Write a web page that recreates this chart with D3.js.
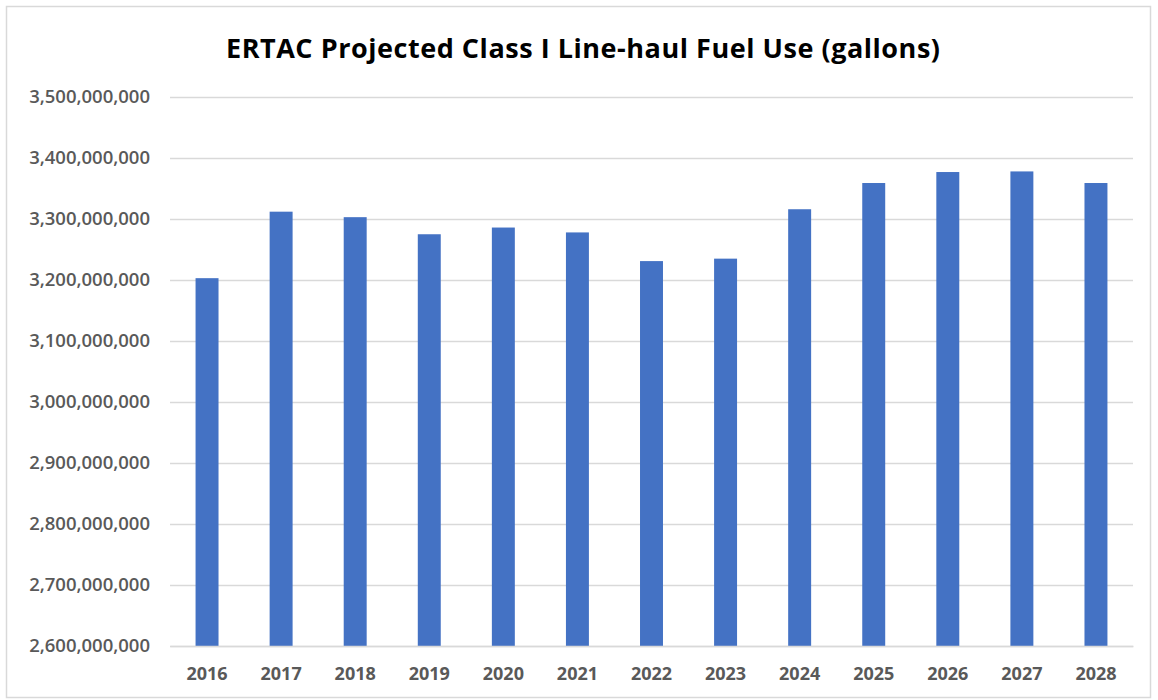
<!DOCTYPE html>
<html>
<head>
<meta charset="utf-8">
<script src="https://cdn.jsdelivr.net/npm/d3@7"></script>
<style>
  body { margin: 0; background: #fff; }
  text { font-family: "Open Sans", "Liberation Sans", sans-serif; }
</style>
</head>
<body>
<div id="chart"></div>
<script>
//data
const years = ["2016", "2017", "2018", "2019", "2020", "2021", "2022", "2023", "2024", "2025", "2026", "2027", "2028"];
const fuelUse = [3203000000, 3312000000, 3303000000, 3275000000, 3286000000, 3278000000, 3231000000, 3235000000, 3316000000, 3359000000, 3377000000, 3378000000, 3359000000];
const yTicks = [2600000000, 2700000000, 2800000000, 2900000000, 3000000000, 3100000000, 3200000000, 3300000000, 3400000000, 3500000000];

const svgWidth = 1158;
const svgHeight = 700;

//plot area
const margin = { top: 97, right: 25, bottom: 54, left: 170 };
const width = svgWidth - margin.left - margin.right;
const height = svgHeight - margin.top - margin.bottom;

const svg = d3.select("#chart")
  .append("svg")
  .attr("width", svgWidth)
  .attr("height", svgHeight);

//outer chart border
svg.append("rect")
  .attr("x", 6.5)
  .attr("y", 6.5)
  .attr("width", 1144)
  .attr("height", 691)
  .attr("fill", "none")
  .attr("stroke", "#d9d9d9")
  .attr("stroke-width", 1.5);

//title
svg.append("text")
  .attr("x", 583)
  .attr("y", 58)
  .attr("text-anchor", "middle")
  .attr("font-size", "27px")
  .attr("font-weight", "bold")
  .attr("fill", "#000")
  .attr("textLength", 714)
  .text("ERTAC Projected Class I Line-haul Fuel Use (gallons)");

const chartGroup = svg.append("g")
  .attr("transform", `translate(${margin.left}, ${margin.top})`);

const xScale = d3.scaleBand()
  .domain(years)
  .range([0, width])
  .paddingInner(0.69)
  .paddingOuter(0.345);

const yScale = d3.scaleLinear()
  .domain([2600000000, 3500000000])
  .range([height, 0]);

//gridlines
const yAxis = chartGroup.append("g")
  .call(d3.axisLeft(yScale)
    .tickValues(yTicks)
    .tickSize(-width)
    .tickPadding(20)
    .tickFormat(d3.format(",")));

yAxis.select(".domain").remove();
yAxis.selectAll(".tick line")
  .attr("stroke", "#d9d9d9")
  .attr("stroke-width", 1.5);
yAxis.selectAll(".tick text")
  .attr("font-size", "18.5px")
  .attr("font-weight", "600")
  .attr("fill", "#595959")
  .attr("font-family", "'Open Sans', sans-serif");

//bars
chartGroup.selectAll(".bar")
  .data(fuelUse)
  .enter()
  .append("rect")
  .attr("class", "bar")
  .attr("x", (d, i) => xScale(years[i]))
  .attr("y", d => yScale(d))
  .attr("width", xScale.bandwidth())
  .attr("height", d => height - yScale(d))
  .attr("fill", "#4472c4");

//x axis
const xAxis = chartGroup.append("g")
  .attr("transform", `translate(0, ${height})`)
  .call(d3.axisBottom(xScale).tickSize(0).tickPadding(21));

xAxis.select(".domain")
  .attr("stroke", "#d9d9d9")
  .attr("stroke-width", 1.5);
xAxis.selectAll(".tick text")
  .attr("font-size", "18px")
  .attr("font-weight", "bold")
  .attr("fill", "#595959")
  .attr("font-family", "'Open Sans', sans-serif");
</script>
</body>
</html>
